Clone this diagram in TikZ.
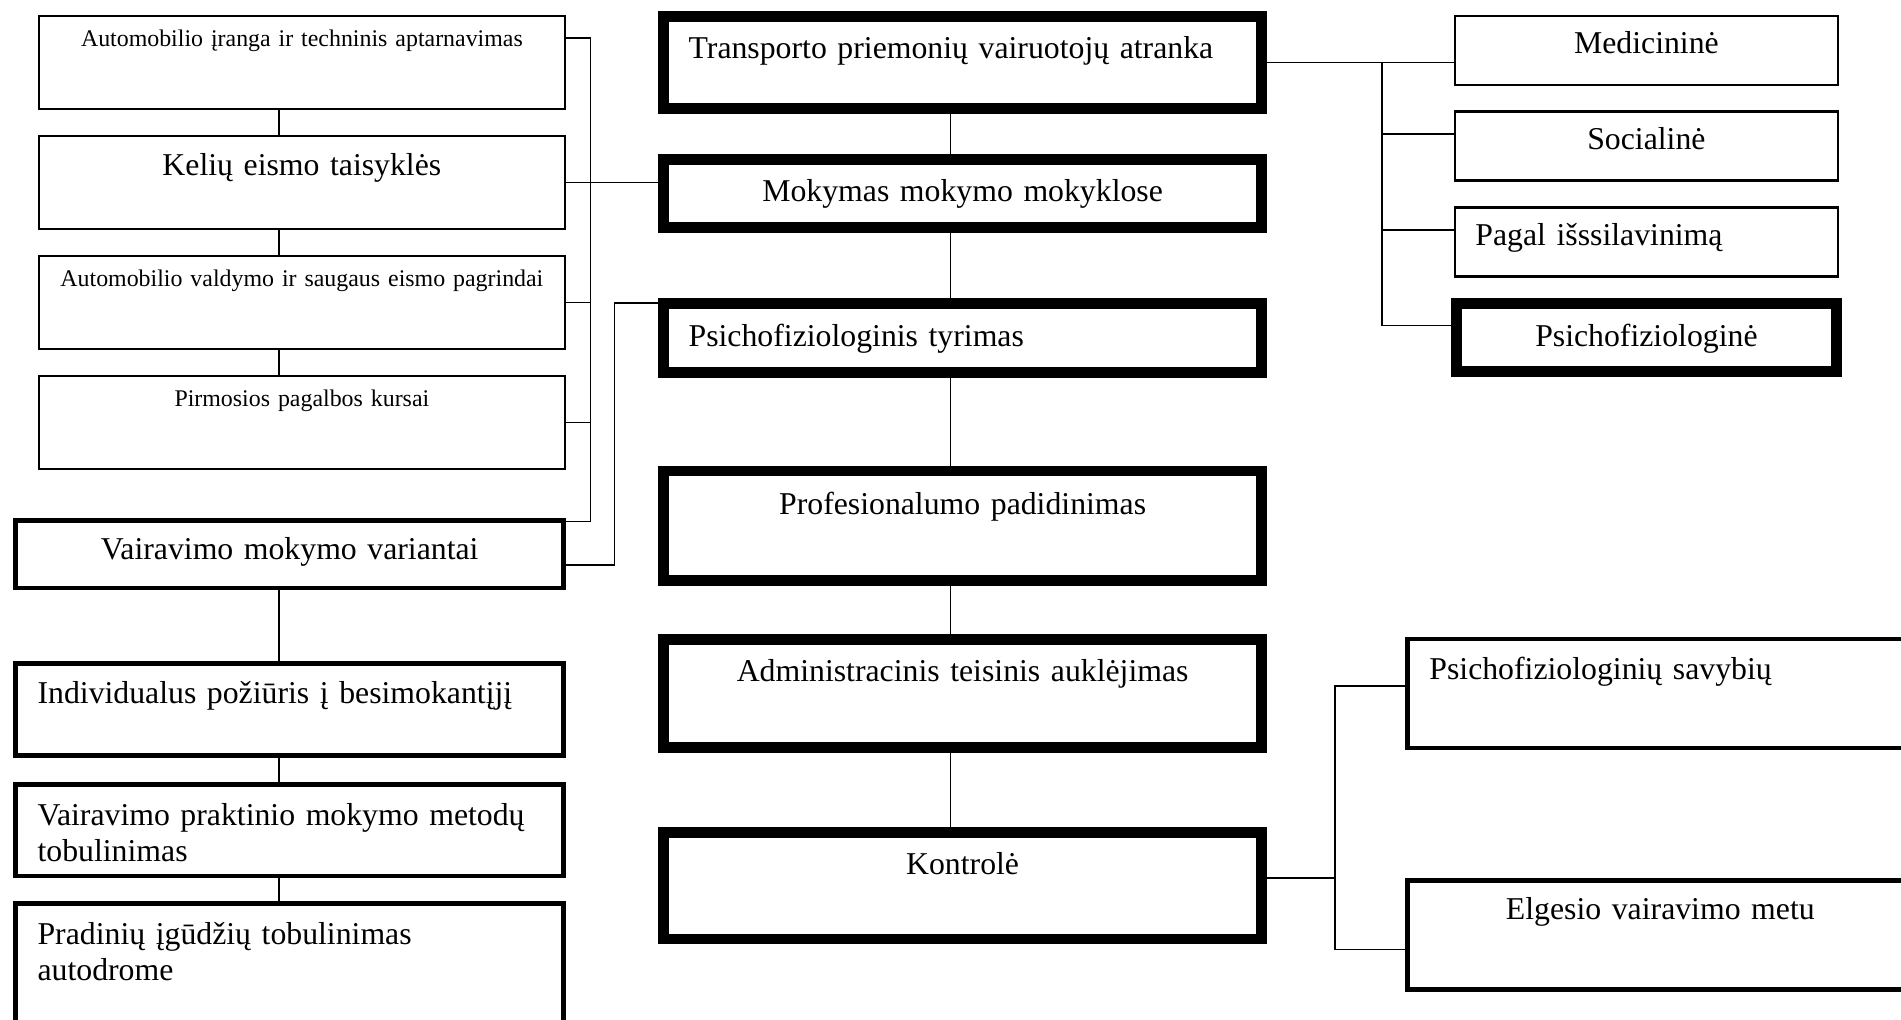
\documentclass[tikz,border=0pt]{standalone}
\usepackage{fontspec}
\setmainfont{Liberation Serif}
\usetikzlibrary{positioning}

\newcommand{\bigtxt}{\fontsize{26.2pt}{30pt}\selectfont}
\newcommand{\smalltxt}{\fontsize{19.7pt}{23pt}\selectfont}

\begin{document}
\begin{tikzpicture}[
    x=1pt, y=-1pt,
    box/.style={draw, inner sep=0pt, text height=20pt, font=\bigtxt},
    slim/.style={box, line width=2pt},
    firm/.style={box, line width=4pt},
    heavy/.style={box, line width=9pt},
    course/.style={slim, minimum width=434pt, minimum height=77pt, text width=430pt, align=center, font=\smalltxt},
    way/.style={firm, minimum width=452pt, text width=416pt, align=left},
    block/.style={heavy, minimum width=493pt, text width=452pt},
    kind/.style={minimum width=316pt, minimum height=57pt, text width=282pt, align=center},
    check/.style={firm, minimum width=417pt, minimum height=90pt, text width=381pt},
    link/.style={line width=1.3pt}
]
    \useasboundingbox (0,0) rectangle (1568,841);
    \clip (0,0) rectangle (1568,841);

    % left column: courses and ways of teaching
    \node[course, text depth=46pt] (ir) at (249,51.5) {Automobilio įranga ir techninis aptarnavimas};
    \node[course, font=\bigtxt, text depth=32pt] (ket) [below=20pt of ir] {Kelių eismo taisyklės};
    \node[course, text depth=46pt] (avs) [below=20pt of ket] {Automobilio valdymo ir saugaus eismo pagrindai};
    \node[course, text depth=46pt] (ppk) [below=20pt of avs] {Pirmosios pagalbos kursai};

    \node[way, align=center, minimum height=56pt, text depth=11pt] (vm) at (239,457) {Vairavimo mokymo variantai};
    \node[way, minimum height=76pt, text depth=29pt] (ip) [below=58pt of vm] {Individualus požiūris į besimokantįjį};
    \node[way, minimum height=75.5pt, text depth=28pt] (pm) [below=20pt of ip] {Vairavimo praktinio mokymo metodų\\tobulinimas};
    \node[way, minimum height=100pt, text depth=53pt] (pi) [below=19pt of pm] {Pradinių įgūdžių tobulinimas\\autodrome};

    % middle column
    \node[block, align=left, minimum height=76pt, text depth=26pt] (tr) at (794,51.5) {Transporto priemonių vairuotojų atranka};
    \node[block, align=center, minimum height=56pt, text depth=6pt] (mk) [below=33pt of tr] {Mokymas mokymo mokyklose};
    \node[block, align=left, minimum height=57pt, text depth=7pt] (pt) [below=54pt of mk] {Psichofiziologinis tyrimas};
    \node[block, align=center, minimum height=90pt, text depth=38pt] (pr) [below=72pt of pt] {Profesionalumo padidinimas};
    \node[block, align=center, minimum height=89pt, text depth=39pt] (ad) [below=40pt of pr] {Administracinis teisinis auklėjimas};
    \node[block, align=center, minimum height=88pt, text depth=38pt] (kt) [below=61pt of ad] {Kontrolė};

    % right column
    \node[kind, slim, text depth=14pt] (md) at (1358,41.5) {Medicininė};
    \node[kind, slim, text depth=14pt] (sc) [below=20pt of md] {Socialinė};
    \node[kind, slim, align=left, text depth=14pt] (pg) [below=20pt of sc] {Pagal išssilavinimą};
    \node[kind, heavy, minimum width=314pt, minimum height=56pt, text depth=6pt] (pf) [below=17pt of pg] {Psichofiziologinė};

    \node[check, align=left, text depth=43pt] (sv) at (1369.5,572) {Psichofiziologinių savybių};
    \node[check, align=center, text depth=45pt] (el) [below=105pt of sv] {Elgesio vairavimo metu};

    % connectors
    \coordinate (lx) at (230,0);
    \coordinate (cx) at (784,0);
    \coordinate (bus1) at (487,0);
    \coordinate (bus2) at (507,0);
    \coordinate (bus3) at (1140,0);
    \coordinate (bus4) at (1101,0);

    \foreach \x/\y in {ir/ket, ket/avs, avs/ppk, vm/ip, ip/pm, pm/pi}
        \draw[link] (\x.south -| lx) -- (\y.north -| lx);
    \foreach \x/\y in {tr/mk, mk/pt, pt/pr, pr/ad, ad/kt}
        \draw[link] (\x.south -| cx) -- (\y.north -| cx);

    \draw[link] ([yshift=20pt]ir.east) -| ([yshift=27pt]vm.east -| bus1) -- ([yshift=27pt]vm.east);
    \draw[link] (ket.east) -- (ket.east -| mk.west);
    \draw[link] (avs.east) -- (avs.east -| bus1);
    \draw[link] (ppk.east) -- (ppk.east -| bus1);
    \draw[link] ([yshift=-9pt]vm.east) -| ([yshift=29pt]pt.west -| bus2) -- ([yshift=29pt]pt.west);

    \draw[link] (tr.east) -- (tr.east -| md.west);
    \foreach \n in {sc, pg, pf}
        \draw[link] (tr.east -| bus3) |- ([yshift=10pt]\n.west);

    \draw[link] ([yshift=6.5pt]kt.east) -- ([yshift=6.5pt]kt.east -| bus4);
    \draw[link] ([yshift=6pt]sv.west) -| ([yshift=-12pt]el.west -| bus4) -- ([yshift=-12pt]el.west);
\end{tikzpicture}
\end{document}
